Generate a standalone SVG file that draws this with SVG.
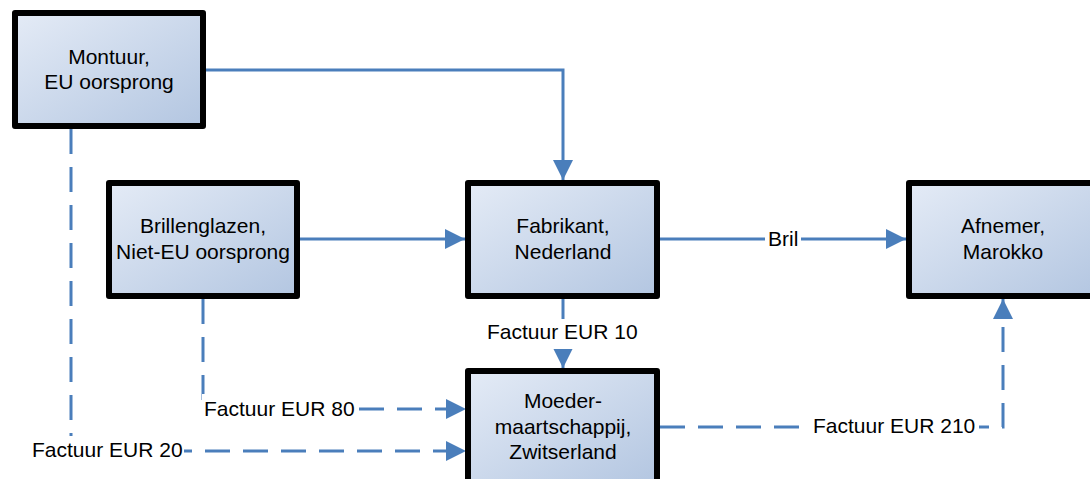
<svg xmlns="http://www.w3.org/2000/svg" width="1090" height="479" viewBox="0 0 1090 479">
<defs>
<linearGradient id="boxfill" x1="0" y1="0" x2="1" y2="1">
<stop offset="0" stop-color="#E4EBF6"/>
<stop offset="1" stop-color="#B3C6E1"/>
</linearGradient>
<marker id="arrow" markerUnits="userSpaceOnUse" markerWidth="20" markerHeight="20" refX="20" refY="10" orient="auto">
<path d="M0,0 L20,10 L0,20 Z" fill="#4A7EBB"/>
</marker>
</defs>
<style>
.box{fill:url(#boxfill);stroke:#000;stroke-width:6;stroke-linejoin:round}
.t{font-family:"Liberation Sans",Arial,sans-serif;font-size:21px;fill:#000;text-anchor:middle}
.lbl{font-family:"Liberation Sans",Arial,sans-serif;font-size:21px;fill:#000}
.c{fill:none;stroke:#4A7EBB;stroke-width:3}
.d{stroke-dasharray:25 13}
.bg{fill:#fff}
</style>
<g id="connectors">
<path class="c" d="M206,70 H563 V180" marker-end="url(#arrow)"/>
<path class="c" d="M300,239 H465" marker-end="url(#arrow)"/>
<path class="c" d="M660,239 H906" marker-end="url(#arrow)"/>
<path class="c" d="M563,299 V368" marker-end="url(#arrow)"/>
<path class="c d" d="M203,299 V409 H466" marker-end="url(#arrow)"/>
<path class="c d" d="M71,129 V451 H466" marker-end="url(#arrow)"/>
<path class="c d" d="M660,427 H1003 V299" marker-end="url(#arrow)"/>
<rect class="bg" x="765" y="225" width="36" height="26"/>
<text class="lbl" x="768" y="246">Bril</text>
<rect class="bg" x="485" y="319" width="156" height="30"/>
<text class="lbl" x="487" y="339">Factuur EUR 10</text>
<rect class="bg" x="202" y="394" width="155" height="28"/>
<text class="lbl" x="204" y="416">Factuur EUR 80</text>
<rect class="bg" x="30" y="436" width="154" height="28"/>
<text class="lbl" x="32" y="457">Factuur EUR 20</text>
<rect class="bg" x="811" y="412" width="168" height="28"/>
<text class="lbl" x="813" y="433">Factuur EUR 210</text>
</g>
<g id="montuur">
<rect class="box" x="15" y="13" width="188" height="113"/>
<text class="t" x="109" y="64">Montuur,</text>
<text class="t" x="109" y="89">EU oorsprong</text>
</g>
<g id="brillenglazen">
<rect class="box" x="109" y="183" width="188" height="113"/>
<text class="t" x="203" y="233">Brillenglazen,</text>
<text class="t" x="203" y="259">Niet-EU oorsprong</text>
</g>
<g id="fabrikant">
<rect class="box" x="468" y="183" width="189" height="113"/>
<text class="t" x="563" y="233">Fabrikant,</text>
<text class="t" x="563" y="259">Nederland</text>
</g>
<g id="afnemer">
<rect class="box" x="909" y="183" width="189" height="113"/>
<text class="t" x="1003" y="233">Afnemer,</text>
<text class="t" x="1003" y="259">Marokko</text>
</g>
<g id="moedermaatschappij">
<rect class="box" x="468" y="371" width="189" height="113"/>
<text class="t" x="563" y="408">Moeder-</text>
<text class="t" x="563" y="434">maartschappij,</text>
<text class="t" x="563" y="459">Zwitserland</text>
</g>
</svg>
